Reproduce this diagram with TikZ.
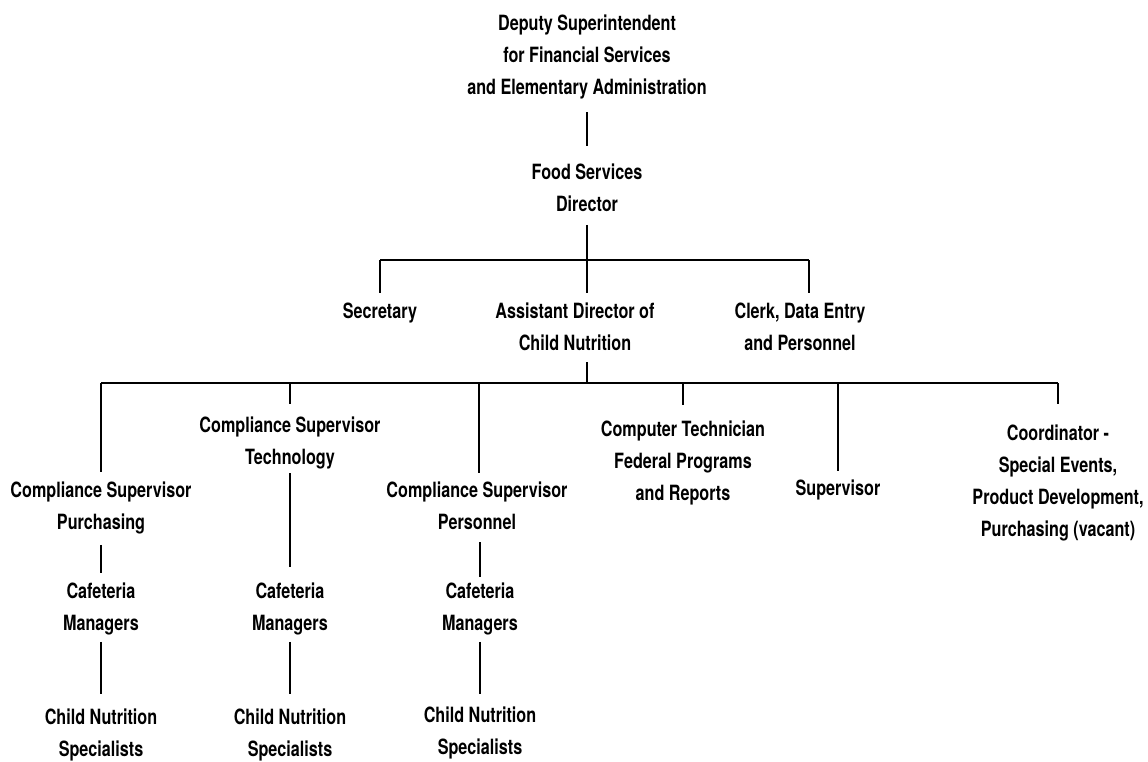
\documentclass[tikz,border=0pt]{standalone}
\usepackage{fontspec}
\newfontfamily\orgfont{TeX Gyre Heros}[FakeStretch=0.77]
\begin{document}
\begin{tikzpicture}[x=1pt,y=-1pt,
  post/.style={font=\orgfont\bfseries\fontsize{21}{32}\selectfont,
    align=center, inner sep=0pt, outer sep=0pt},
  conn/.style={draw=black, line width=1.2pt}]
\useasboundingbox (0,0) rectangle (1148,762);

% upper levels
\node[post] (ds)    at (587,57.2)  {Deputy Superintendent\\for Financial Services\\and Elementary Administration};
\node[post] (fsd)   at (587,187.5) {Food Services\\Director};
\node[post] (sec)   at (380,313.2) {Secretary};
\node[post] (ad)    at (575,327)   {Assistant Director of\\Child Nutrition};
\node[post] (clerk) at (800,327)   {Clerk, Data Entry\\and Personnel};

% staff under the assistant director
\node[post] (csp)   at (101,507.7) {Compliance Supervisor\\Purchasing};
\node[post] (cst)   at (290,443.2) {Compliance Supervisor\\Technology};
\node[post] (cspe)  at (477,506)   {Compliance Supervisor\\Personnel};
\node[post] (ct)    at (683,463.2) {Computer Technician\\Federal Programs\\and Reports};
\node[post] (sup)   at (838,490.2) {Supervisor};
\node[post] (coord) at (1058,482.7) {Coordinator -\\Special Events,\\Product Development,\\Purchasing (vacant)};

% cafeteria columns
\node[post] (cm1) at (101,608.7) {Cafeteria\\Managers};
\node[post] (cn1) at (101,735) {Child Nutrition\\Specialists};
\node[post] (cm2) at (290,608.7) {Cafeteria\\Managers};
\node[post] (cn2) at (290,735) {Child Nutrition\\Specialists};
\node[post] (cm3) at (480,608.7) {Cafeteria\\Managers};
\node[post] (cn3) at (480,733) {Child Nutrition\\Specialists};

% junctions on the two horizontal bars
\coordinate (b1l) at (380,260);
\coordinate (b1m) at (587,260);
\coordinate (b1r) at (809,260);
\coordinate (b2a) at (101,383);
\coordinate (b2b) at (290,383);
\coordinate (b2c) at (479,383);
\coordinate (b2m) at (587,383);
\coordinate (b2d) at (683,383);
\coordinate (b2e) at (838,383);
\coordinate (b2f) at (1058,383);

% top chain
\draw[conn, shorten <=13, shorten >=17.4] (ds) -- (fsd);
\draw[conn, shorten <=13.5] (fsd) -- (b1m);
\draw[conn] (b1l) -- (b1r);
\draw[conn, shorten >=10.4] (b1l) -- (sec);
\draw[conn, shorten >=10.4] (b1m) -- (b1m |- ad.north);
\draw[conn, shorten >=10.4] (b1r) -- (b1r |- clerk.north);

% second bar
\draw[conn, shorten <=11.5] (b1m |- ad.south) -- (b2m);
\draw[conn] (b2a) -- (b2f);
\draw[conn, shorten >=9.4]  (b2a) -- (csp);
\draw[conn, shorten >=13.4] (b2b) -- (cst);
\draw[conn, shorten >=9.4]  (b2c) -- (b2c |- cspe.north);
\draw[conn, shorten >=16.4] (b2d) -- (ct);
\draw[conn, shorten >=9.4]  (b2e) -- (sup);
\draw[conn, shorten >=20.4] (b2f) -- (coord);

% columns
\draw[conn, shorten <=11, shorten >=9.4] (csp) -- (cm1);
\draw[conn, shorten <=7, shorten >=14.7] (cm1) -- (cn1);
\draw[conn, shorten <=4, shorten >=15.4] (cst) -- (cm2);
\draw[conn, shorten <=7, shorten >=14.7] (cm2) -- (cn2);
\draw[conn, shorten <=12.5, shorten >=5.4] (cm3 |- cspe.south) -- (cm3.north);
\draw[conn, shorten <=7, shorten >=12.4] (cm3) -- (cn3);
\end{tikzpicture}
\end{document}
